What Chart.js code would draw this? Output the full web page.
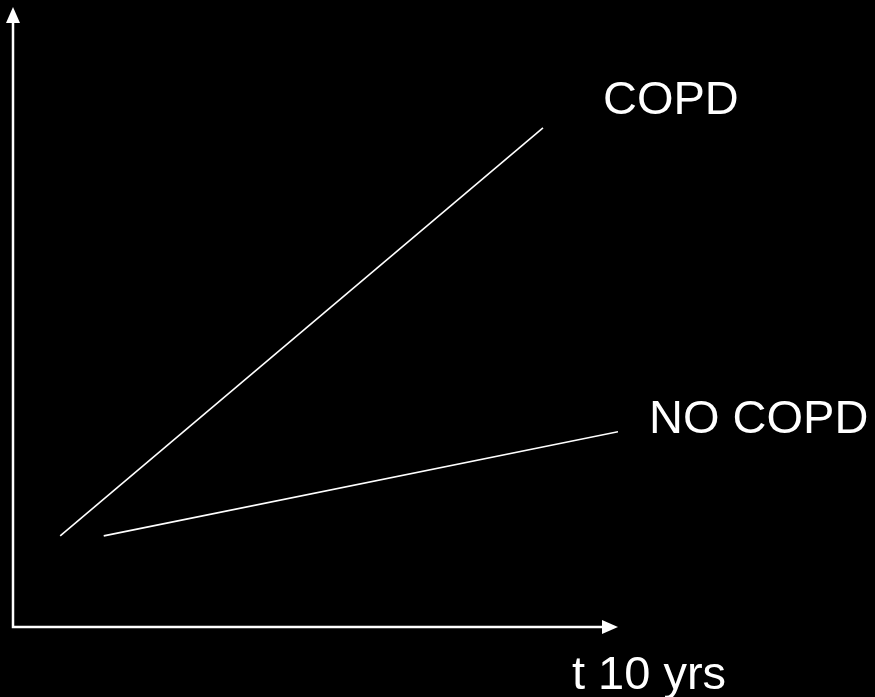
<!DOCTYPE html>
<html>
<head>
<meta charset="utf-8">
<script src="https://cdn.jsdelivr.net/npm/chart.js@4"></script>
<style>
  html, body { margin: 0; padding: 0; background: #000; }
  canvas { display: block; }
</style>
</head>
<body>
<canvas id="copd-chart" width="875" height="697"></canvas>
<script>
// data, in axis units (0..100 on both axes)
var seriesNames = ["COPD", "NO COPD"];
var copdX = [7.8, 87.6];
var copdY = [14.7, 80.5];
var noCopdX = [15, 100];
var noCopdY = [14.7, 31.5];
var xAxisLabel = "t 10 yrs";

function points(xs, ys) {
    var out = [];
    for (let i = 0; i < xs.length; i++) {
        out.push({ x: xs[i], y: ys[i] });
    }
    return out;
}

// axes with arrow heads + text labels
var sketchAxes = {
    id: 'sketchAxes',
    afterDatasetsDraw: function(chart) {
        var ctx = chart.ctx;
        var area = chart.chartArea;
        var x0 = area.left, y0 = area.bottom;
        ctx.save();
        ctx.strokeStyle = '#fff';
        ctx.fillStyle = '#fff';
        ctx.lineWidth = 2.5;
        ctx.beginPath();
        ctx.moveTo(x0, area.top + 14);
        ctx.lineTo(x0, y0);
        ctx.lineTo(area.right - 14, y0);
        ctx.stroke();
        // up arrow
        ctx.beginPath();
        ctx.moveTo(x0, area.top);
        ctx.lineTo(x0 - 7, area.top + 16);
        ctx.lineTo(x0 + 7, area.top + 16);
        ctx.closePath();
        ctx.fill();
        // right arrow
        ctx.beginPath();
        ctx.moveTo(area.right, y0);
        ctx.lineTo(area.right - 16, y0 - 7);
        ctx.lineTo(area.right - 16, y0 + 7);
        ctx.closePath();
        ctx.fill();

        ctx.font = '47px "Liberation Sans", Arial, sans-serif';
        ctx.textBaseline = 'alphabetic';
        ctx.textAlign = 'left';
        ctx.fillText(seriesNames[0], 603, 114);
        ctx.fillText(seriesNames[1], 649, 433);
        ctx.fillText(xAxisLabel, 572, 689);
        ctx.restore();
    }
};

new Chart(document.getElementById("copd-chart"), {
    type: 'scatter',
    data: {
        datasets: [{
            label: seriesNames[0],
            data: points(copdX, copdY),
            showLine: true,
            borderColor: '#fff',
            borderWidth: 1.6,
            pointRadius: 0
        }, {
            label: seriesNames[1],
            data: points(noCopdX, noCopdY),
            showLine: true,
            borderColor: '#fff',
            borderWidth: 1.6,
            pointRadius: 0
        }]
    },
    options: {
        responsive: false,
        animation: false,
        layout: {
            padding: { left: 13, top: 7, right: 257, bottom: 70 }
        },
        scales: {
            x: { type: 'linear', min: 0, max: 100, display: false },
            y: { type: 'linear', min: 0, max: 100, display: false }
        },
        plugins: {
            legend: { display: false },
            tooltip: { enabled: false },
            title: { display: false }
        }
    },
    plugins: [sketchAxes]
});
</script>
</body>
</html>
